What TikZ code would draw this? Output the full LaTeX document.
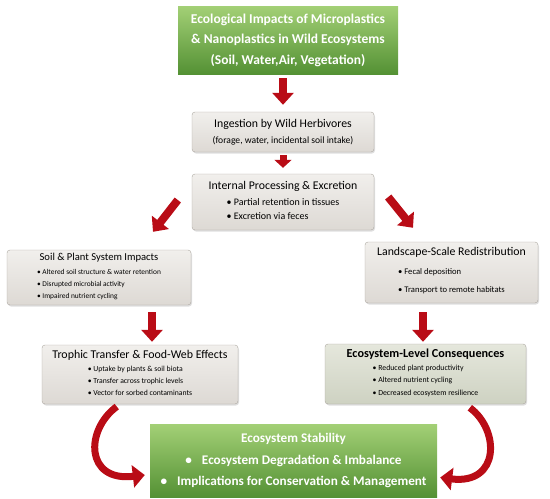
\documentclass[tikz,border=0pt]{standalone}
\usepackage{fontspec}
\setmainfont{Carlito}
\usetikzlibrary{arrows.meta, positioning, shadows}
\definecolor{arrowred}{RGB}{185, 12, 22}
\definecolor{greentop}{RGB}{163, 208, 118}
\definecolor{greenbot}{RGB}{84, 145, 52}
\definecolor{boxtop}{RGB}{241, 239, 236}
\definecolor{boxbot}{RGB}{221, 217, 212}
\definecolor{boxline}{RGB}{172, 167, 160}
\definecolor{ecotop}{RGB}{229, 231, 220}
\definecolor{ecobot}{RGB}{206, 210, 194}

\tikzset{
    greenbox/.style={top color=greentop, bottom color=greenbot, text=white, align=center, inner sep=2pt},
    graybox/.style={rounded corners=3pt, draw=boxline, top color=boxtop, bottom color=boxbot, align=center, inner sep=2pt,
        drop shadow={opacity=0.25, shadow xshift=1pt, shadow yshift=-1.5pt}},
    redarrow/.style={draw=arrowred, line width=8pt, -{Triangle[length=12pt, width=21pt]}},
    smallarrow/.style={draw=arrowred, line width=7pt, -{Triangle[length=8pt, width=17pt]}},
    curvearrow/.style={draw=arrowred, line width=7pt, -{Triangle[length=12pt, width=22pt]}},
}

\begin{document}
\begin{tikzpicture}[x=1pt, y=-1pt]
    \useasboundingbox (0,0) rectangle (550,499);

    % Top box
    \node[greenbox, minimum width=220, minimum height=68, font={\bfseries\fontsize{13.5}{20.5}\selectfont}] (impacts) at (288,40)
        {Ecological Impacts of Microplastics\\ \& Nanoplastics in Wild Ecosystems\\ (Soil, Water,Air, Vegetation)};

    % Middle column
    \node[graybox, minimum width=182, minimum height=40, font={\fontsize{11.8}{16.5}\selectfont}] (ingest) at (283,132)
        {Ingestion by Wild Herbivores\\ {\fontsize{9.6}{10}\selectfont (forage, water, incidental soil intake)}};
    \node[graybox, minimum width=182, minimum height=56, font={\fontsize{11.8}{16}\selectfont}] (internal) at (283,202)
        {Internal Processing \& Excretion\\ {\fontsize{10}{14}\selectfont\begin{tabular}[t]{@{}l@{}}
            \textbullet\ Partial retention in tissues\\ \textbullet\ Excretion via feces\end{tabular}}};

    % Left branch
    \node[graybox, minimum width=184, minimum height=55, font={\fontsize{10.6}{14}\selectfont}] (soil) at (99,277.5)
        {Soil \& Plant System Impacts\\ {\fontsize{7.4}{12}\selectfont\begin{tabular}[t]{@{}l@{}}
            \textbullet\ Altered soil structure \& water retention\\ \textbullet\ Disrupted microbial activity\\
            \textbullet\ Impaired nutrient cycling\end{tabular}}};
    \node[graybox, minimum width=196, minimum height=59, font={\fontsize{11.9}{13}\selectfont}] (trophic) at (140,374.5)
        {Trophic Transfer \& Food-Web Effects\\ {\fontsize{7.7}{12}\selectfont\begin{tabular}[t]{@{}l@{}}
            \textbullet\ Uptake by plants \& soil biota\\ \textbullet\ Transfer across trophic levels\\
            \textbullet\ Vector for sorbed contaminants\end{tabular}}};

    % Right branch
    \node[graybox, minimum width=173, minimum height=61, font={\fontsize{11.8}{19}\selectfont}] (landscape) at (451.5,272.5)
        {Landscape-Scale Redistribution\\ {\fontsize{8.6}{17.5}\selectfont\begin{tabular}[t]{@{}l@{}}
            \textbullet\ Fecal deposition\\ \textbullet\ Transport to remote habitats\end{tabular}}};
    \node[graybox, top color=ecotop, bottom color=ecobot, minimum width=201, minimum height=60, font={\bfseries\fontsize{12.2}{13}\selectfont}] (ecolevel) at (425.5,374)
        {Ecosystem-Level Consequences\\ {\mdseries\fontsize{7.8}{12.5}\selectfont\begin{tabular}[t]{@{}l@{}}
            \textbullet\ Reduced plant productivity\\ \textbullet\ Altered nutrient cycling\\
            \textbullet\ Decreased ecosystem resilience\end{tabular}}};

    % Bottom box
    \node[greenbox, minimum width=287, minimum height=73, font={\bfseries\fontsize{13.2}{21.5}\selectfont}] (stability) at (293.5,460.5)
        {Ecosystem Stability\\ \textbullet\hspace{10pt}Ecosystem Degradation \& Imbalance\\
         \textbullet\hspace{10pt}Implications for Conservation \& Management};

    % Arrows
    \draw[redarrow, shorten <=4pt, shorten >=7pt] (ingest.north |- impacts.south) -- (ingest.north);
    \draw[smallarrow, shorten <=3pt, shorten >=6pt] (ingest.south) -- (internal.north);
    \draw[redarrow] ([xshift=-14pt, yshift=2pt]internal.west) -- ([xshift=54pt, yshift=18pt]soil.north);
    \draw[redarrow] ([xshift=14pt, yshift=5pt]internal.east) -- ([xshift=-38.5pt, yshift=14pt]landscape.north);
    \draw[redarrow, shorten <=7pt, shorten >=3pt] ([xshift=53pt]soil.south) -- ([xshift=12pt]trophic.north);
    \draw[redarrow, shorten <=9pt, shorten >=2pt] ([xshift=-28.5pt]landscape.south) -- ([xshift=-2.5pt]ecolevel.north);
    \draw[curvearrow, shorten <=4pt] ([xshift=-20pt]trophic.south) .. controls (85,430) and (85,482) .. ([xshift=-5pt, yshift=-14.5pt]stability.west);
    \draw[curvearrow, shorten <=6pt] ([xshift=39.5pt]ecolevel.south) .. controls (500,430) and (500,485) .. ([xshift=3pt, yshift=-17pt]stability.east);
\end{tikzpicture}
\end{document}
